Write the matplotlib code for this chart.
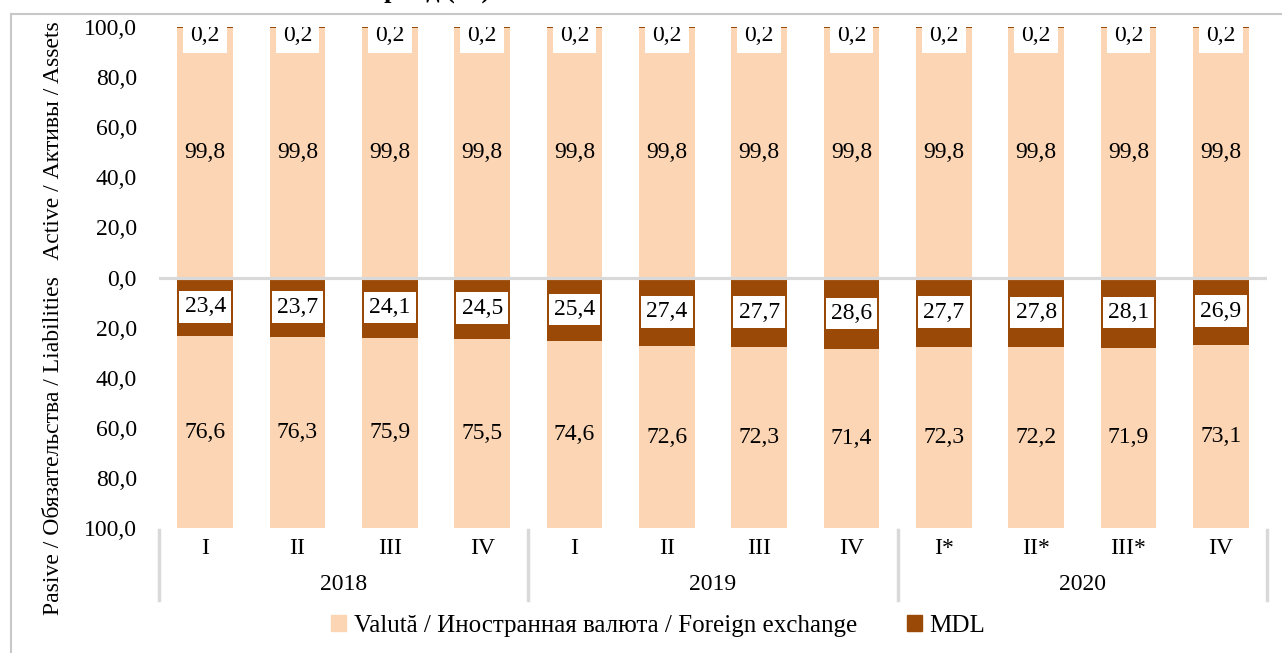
#!/usr/bin/env python3
"""Currency structure of assets / liabilities by quarter, 2018-2020."""

import matplotlib
matplotlib.use("Agg")
import matplotlib.pyplot as plt
from matplotlib.lines import Line2D
from matplotlib.patches import Patch

quarters = ["I", "II", "III", "IV", "I", "II", "III", "IV", "I*", "II*", "III*", "IV"]
years = ["2018", "2019", "2020"]

assets_fx = [99.8] * 12
assets_mdl = [0.2] * 12
liab_mdl = [23.4, 23.7, 24.1, 24.5, 25.4, 27.4, 27.7, 28.6, 27.7, 27.8, 28.1, 26.9]
liab_fx = [76.6, 76.3, 75.9, 75.5, 74.6, 72.6, 72.3, 71.4, 72.3, 72.2, 71.9, 73.1]

C_FX = "#FCD5B4"
C_MDL = "#9A4A06"
GRID = "#D9D9D9"
FS = 17

plt.rcParams["font.family"] = ["Liberation Serif", "DejaVu Serif"]

W, H = 1282, 653
fig = plt.figure(figsize=(W / 100, H / 100), dpi=100)
ax = fig.add_axes([159 / W, 1 - 528 / H, (1267 - 159) / W, (528 - 27) / H])

x = list(range(len(quarters)))
bw = 0.6

# assets (upwards)
ax.bar(x, assets_fx, bw, color=C_FX, zorder=2)
ax.bar(x, assets_mdl, bw, bottom=assets_fx, color=C_MDL, zorder=2)
# liabilities (downwards)
ax.bar(x, [-v for v in liab_mdl], bw, color=C_MDL, zorder=2)
ax.bar(x, [-v for v in liab_fx], bw, bottom=[-v for v in liab_mdl], color=C_FX, zorder=2)

ax.axhline(0, color=GRID, lw=2.3, zorder=3)

fmt = lambda v: f"{v:.1f}".replace(".", ",")
box = dict(boxstyle="square,pad=0.22", fc="white", ec="none")
for i in x:
    ax.text(i, assets_fx[i] / 2, fmt(assets_fx[i]), ha="center", va="center",
            fontsize=FS, zorder=4)
    ax.text(i, 96.6, fmt(assets_mdl[i]), ha="center", va="center",
            fontsize=FS, bbox=dict(boxstyle="square,pad=0.3", fc="white", ec="none"),
            zorder=4, clip_on=True)
    ax.text(i, -liab_mdl[i] / 2, fmt(liab_mdl[i]), ha="center", va="center",
            fontsize=FS, bbox=box, zorder=4)
    ax.text(i, -(liab_mdl[i] + liab_fx[i] / 2), fmt(liab_fx[i]), ha="center", va="center",
            fontsize=FS, zorder=4)

ax.set_xlim(-0.5, len(quarters) - 0.5)
ax.set_ylim(-100, 100)
ticks = list(range(-100, 101, 20))
ax.set_yticks(ticks)
ax.set_yticklabels([fmt(abs(t)) for t in ticks], fontsize=FS)
ax.tick_params(axis="y", length=0, pad=16)
ax.set_xticks([])
for s in ax.spines.values():
    s.set_visible(False)

# category axis: quarters, years, separators
tr = ax.get_xaxis_transform()
px = 1 / (528 - 27)
for i, q in enumerate(quarters):
    ax.text(i, -20 * px, q, transform=tr, ha="center", va="center", fontsize=FS)
for g, yr in enumerate(years):
    ax.text(g * 4 + 1.5, -57 * px, yr, transform=tr, ha="center", va="center", fontsize=FS)
for xs in [-0.5, 3.5, 7.5, 11.5]:
    ax.add_line(Line2D([xs, xs], [-2 * px, -72 * px], transform=tr, color=GRID, lw=2.5,
                       clip_on=False))

fig.text(54 / W, 1 - 318 / H,
         "Pasive / Обязательства / Liabilities   Active / Активы / Assets",
         rotation=90, ha="center", va="center", fontsize=FS)

handles = [Patch(color=C_FX), Patch(color=C_MDL)]
fig.legend(handles, ["Valută / Иностранная валюта / Foreign exchange", "MDL"],
           loc="center", bbox_to_anchor=(658 / W, 1 - 626 / H), ncol=2, frameon=False,
           fontsize=18, handlelength=0.6, handleheight=0.6, handletextpad=0.3,
           columnspacing=2.0)

# outer frame and clipped title from the source document
fig.add_artist(Line2D([11 / W, 1], [1 - 14 / H] * 2, transform=fig.transFigure,
                      color="#C8C8C8", lw=1.5))
fig.add_artist(Line2D([11 / W] * 2, [0, 1 - 14 / H], transform=fig.transFigure,
                      color="#C8C8C8", lw=1.5))
fig.text(490 / W, 1 + 1 / H, "за период (%)", ha="right", va="baseline",
         fontsize=FS + 2, fontweight="bold")

fig.savefig("out.png", dpi=100)
